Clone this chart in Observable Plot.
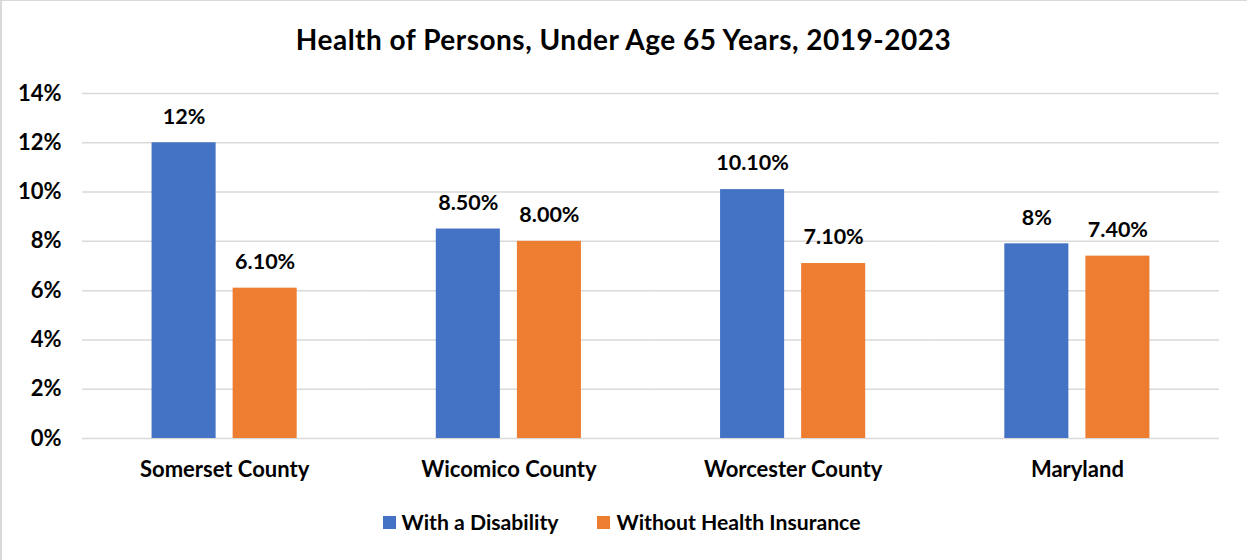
<!DOCTYPE html>
<html>
<head>
<meta charset="utf-8">
<script src="https://cdn.jsdelivr.net/npm/d3@7"></script>
<script src="https://cdn.jsdelivr.net/npm/@observablehq/plot@0.6"></script>
<style>
  html, body { margin: 0; padding: 0; background: #fff; }
  #wrap { position: relative; width: 1245px; height: 559px; border-left: 2px solid #d9d9d9; border-top: 1px solid #d9d9d9; background: #fff; font-family: Lato, "Open Sans", sans-serif; font-weight: bold; color: #000; overflow: hidden; }
  #title { position: absolute; left: -2px; top: 21px; width: 1247px; text-align: center; font-size: 28px; line-height: 34px; letter-spacing: 0.5px; font-weight: bold; }
  #chart { position: absolute; left: -2px; top: -1px; }
  #legend { position: absolute; left: -4px; top: 506px; width: 1247px; display: flex; justify-content: center; gap: 39px; font-size: 21.2px; line-height: 30px; }
  .item { display: flex; align-items: center; }
  .sw { width: 13px; height: 13px; margin-right: 6px; }
</style>
</head>
<body>
<div id="wrap">
  <div id="chart"></div>
  <div id="title">Health of Persons, Under Age 65 Years, 2019-2023</div>
  <div id="legend"></div>
</div>
<script>
const categories = ["Somerset County", "Wicomico County", "Worcester County", "Maryland"];
const seriesNames = ["With a Disability", "Without Health Insurance"];
const seriesColors = ["#4472C4", "#ED7D31"];
const disability = [12, 8.5, 10.1, 7.9];
const uninsured = [6.1, 8.0, 7.1, 7.4];
const disabilityLabels = ["12%", "8.50%", "10.10%", "8%"];
const uninsuredLabels = ["6.10%", "8.00%", "7.10%", "7.40%"];
const yTicks = [0, 2, 4, 6, 8, 10, 12, 14];

const data = [];
categories.forEach((c, i) => {
  data.push({cat: c, series: seriesNames[0], value: disability[i], label: disabilityLabels[i]});
  data.push({cat: c, series: seriesNames[1], value: uninsured[i], label: uninsuredLabels[i]});
});

const chart = Plot.plot({
  width: 1247,
  height: 490,
  marginTop: 93,
  marginBottom: 52,
  marginLeft: 82,
  marginRight: 28,
  style: {fontFamily: "Lato, 'Open Sans', sans-serif", fontWeight: "bold", color: "#000", background: "transparent"},
  fx: {domain: categories, padding: 0, round: false, label: null},
  x: {domain: seriesNames, paddingInner: 0.21, paddingOuter: 0.858, round: false, axis: null},
  y: {domain: [0, 14], label: null},
  color: {domain: seriesNames, range: seriesColors},
  marks: [
    Plot.ruleY(yTicks, {stroke: "#d9d9d9", strokeWidth: 1.5}),
    Plot.barY(data, {fx: "cat", x: "series", y: "value", fill: "series"}),
    Plot.text(data, {fx: "cat", x: "series", y: "value", text: "label", dy: -26, fontSize: 21.5, fontWeight: "bold", fill: "#000"}),
    Plot.axisY({ticks: yTicks, tickFormat: d => d + "%", tickSize: 0, tickPadding: 21, fontSize: 22, fontWeight: "bold", label: null}),
    Plot.axisFx({anchor: "bottom", tickSize: 0, tickPadding: 23, fontSize: 22, fontWeight: "bold", label: null})
  ]
});
document.getElementById("chart").appendChild(chart);

const legend = document.getElementById("legend");
seriesNames.forEach((s, i) => {
  const item = document.createElement("div");
  item.className = "item";
  const sw = document.createElement("div");
  sw.className = "sw";
  sw.style.background = seriesColors[i];
  const t = document.createElement("span");
  t.textContent = s;
  item.appendChild(sw);
  item.appendChild(t);
  legend.appendChild(item);
});
</script>
</body>
</html>
